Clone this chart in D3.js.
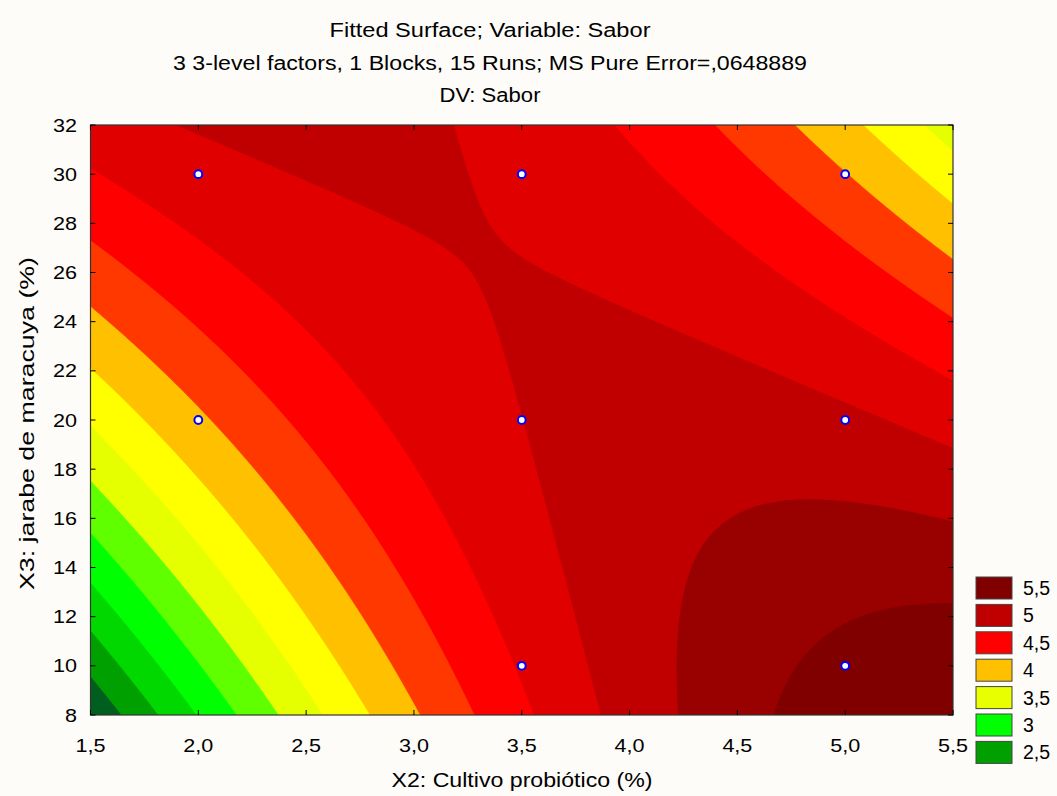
<!DOCTYPE html>
<html><head><meta charset="utf-8">
<script src="https://cdn.jsdelivr.net/npm/d3@7"></script>
<style>
html,body{margin:0;padding:0;background:#fdfcf8;}
svg{display:block;font-family:"Liberation Sans",Arial,sans-serif;fill:#000;}
</style></head><body>
<svg id="chart" width="1057" height="796"></svg>
<script>
// Fitted quadratic response surface for Sabor, in coded units:
// c2 = (X2 - 3.5) / 2,  c3 = (X3 - 20) / 12
const surfaceTerms = ["1", "c2", "c3", "c2^2", "c3^2", "c2*c3"];
const surfaceCoef  = [4.9980, 0.5611, 0.1086, -0.6616, -0.1903, -1.1954];

// contour levels and band colours (lowest band first)
const levels = [2.5, 2.75, 3, 3.25, 3.5, 3.75, 4, 4.25, 4.5, 4.75, 5, 5.25, 5.5];
const bandColors = ["#005f1e", "#00a000", "#00d800", "#00ff00", "#60ff00", "#e6ff00", "#ffff00",
                    "#ffc000", "#ff3800", "#ff0000", "#e00000", "#c00000", "#990000", "#800000"];

// legend entries
const legendLabels = ["5,5", "5", "4,5", "4", "3,5", "3", "2,5"];
const legendColors = ["#800000", "#c00000", "#ff0000", "#ffc000", "#e8ff00", "#00ff00", "#00a000"];

// axis ticks
const xTicks = [1.5, 2, 2.5, 3, 3.5, 4, 4.5, 5, 5.5];
const yTicks = [8, 10, 12, 14, 16, 18, 20, 22, 24, 26, 28, 30, 32];

// design points (X2, X3)
const pointsX = [2, 2, 3.5, 3.5, 3.5, 5, 5, 5];
const pointsY = [20, 30, 10, 20, 30, 10, 20, 30];

const titles = ["Fitted Surface; Variable: Sabor",
                "3 3-level factors, 1 Blocks, 15 Runs; MS Pure Error=,0648889",
                "DV: Sabor"];

function surface(X2, X3) {
  const u = (X2 - 3.5) / 2, v = (X3 - 20) / 12;
  const t = [1, u, v, u * u, v * v, u * v];
  return d3.sum(t, (d, i) => d * surfaceCoef[i]);
}

const L = 90.5, R = 953, T = 125, B = 715;
const svg = d3.select("#chart");
const x = d3.scaleLinear().domain([1.5, 5.5]).range([L, R]);
const y = d3.scaleLinear().domain([8, 32]).range([B, T]);

svg.append("defs").append("clipPath").attr("id", "plotclip")
  .append("rect").attr("x", L).attr("y", T).attr("width", R - L).attr("height", B - T);

// sample the surface on a pixel-ish grid and trace filled contours
const n = Math.round((R - L) / 2), m = Math.round((B - T) / 2);
const grid = new Array(n * m);
for (let j = 0; j < m; j++)
  for (let i = 0; i < n; i++)
    grid[j * n + i] = surface(x.invert(L + (i + 0.5) * (R - L) / n), y.invert(T + (j + 0.5) * (B - T) / m));

const bands = d3.contours().size([n, m]).thresholds([-100].concat(levels))(grid);
const proj = d3.geoTransform({
  point: function (px, py) { this.stream.point(L + px * (R - L) / n, T + py * (B - T) / m); }
});
const path = d3.geoPath(proj);
svg.append("g").attr("clip-path", "url(#plotclip)")
  .selectAll("path").data(bands).join("path")
  .attr("d", path)
  .attr("fill", (d, i) => bandColors[i])
  .attr("stroke", (d, i) => bandColors[i])
  .attr("stroke-width", 0.6);

// frame and inward ticks on all four sides
svg.append("rect").attr("x", L).attr("y", T).attr("width", R - L).attr("height", B - T)
  .attr("fill", "none").attr("stroke", "#333").attr("stroke-width", 1.2);
const tk = svg.append("g").attr("stroke", "#000").attr("stroke-width", 1);
xTicks.forEach(v => {
  tk.append("line").attr("x1", x(v)).attr("x2", x(v)).attr("y1", B).attr("y2", B - 5);
  tk.append("line").attr("x1", x(v)).attr("x2", x(v)).attr("y1", T).attr("y2", T + 5);
});
yTicks.forEach(v => {
  tk.append("line").attr("y1", y(v)).attr("y2", y(v)).attr("x1", L).attr("x2", L + 5);
  tk.append("line").attr("y1", y(v)).attr("y2", y(v)).attr("x1", R).attr("x2", R - 5);
});

const fmt = v => d3.format(".1f")(v).replace(".", ",");
svg.append("g").selectAll("text").data(xTicks).join("text")
  .attr("x", d => x(d)).attr("y", 752).attr("text-anchor", "middle")
  .attr("font-size", 19).attr("textLength", 30).attr("lengthAdjust", "spacingAndGlyphs")
  .text(fmt);
svg.append("g").selectAll("text").data(yTicks).join("text")
  .attr("x", 77).attr("y", d => y(d) + 6.5).attr("text-anchor", "end")
  .attr("font-size", 19).attr("textLength", d => String(d).length * 12).attr("lengthAdjust", "spacingAndGlyphs")
  .text(d => d);

// design points
svg.append("g").selectAll("circle").data(pointsX).join("circle")
  .attr("cx", d => x(d)).attr("cy", (d, i) => y(pointsY[i]))
  .attr("r", 3.9).attr("fill", "#fff").attr("stroke", "#0000ff").attr("stroke-width", 2);

// titles
const titleWidths = [321, 634, 101];
svg.append("g").selectAll("text").data(titles).join("text")
  .attr("x", 490).attr("y", (d, i) => 37 + i * 32.5).attr("text-anchor", "middle")
  .attr("font-size", 19.5).attr("textLength", (d, i) => titleWidths[i]).attr("lengthAdjust", "spacingAndGlyphs")
  .text(d => d);
svg.append("text").attr("x", 522).attr("y", 787).attr("text-anchor", "middle")
  .attr("font-size", 19.5).attr("textLength", 261).attr("lengthAdjust", "spacingAndGlyphs")
  .text("X2: Cultivo probiótico (%)");
svg.append("text").attr("transform", "translate(34,423.5) rotate(-90)").attr("text-anchor", "middle")
  .attr("font-size", 20.5).attr("textLength", 333).attr("lengthAdjust", "spacingAndGlyphs")
  .text("X3: jarabe de maracuya (%)");

// legend
const lg = svg.append("g");
legendLabels.forEach((t, i) => {
  lg.append("rect").attr("x", 976).attr("y", 577 + i * 27.4).attr("width", 36).attr("height", 22)
    .attr("fill", legendColors[i]).attr("stroke", "#444").attr("stroke-width", 1);
  lg.append("text").attr("x", 1023).attr("y", 577 + i * 27.4 + 18).attr("font-size", 19.5).text(t);
});
</script></body></html>
